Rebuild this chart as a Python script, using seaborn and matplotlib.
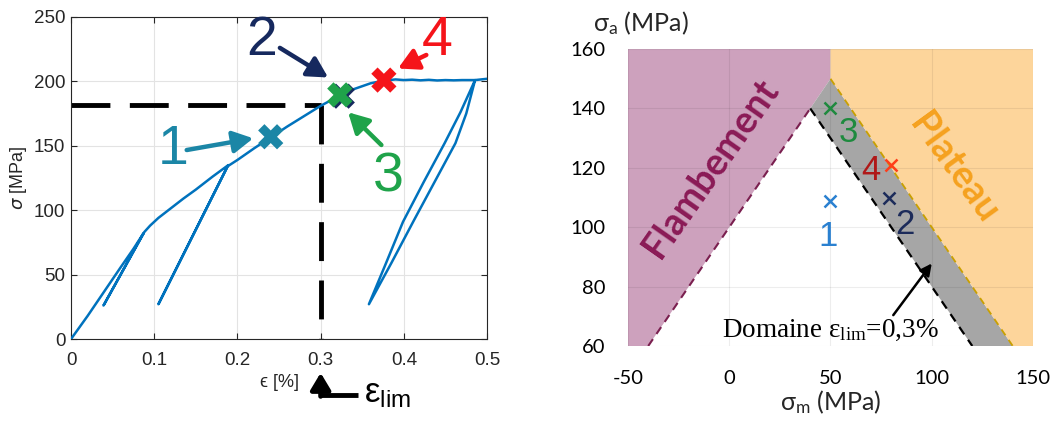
import numpy as np
import matplotlib
matplotlib.use("Agg")
import matplotlib.pyplot as plt
import matplotlib.transforms as mtransforms
import seaborn as sns

# left: stress-strain curve with unloading loops (path order)
strain = [0, 0.02, 0.04, 0.06, 0.075, 0.087,
          0.039, 0.088,
          0.095, 0.105, 0.119, 0.135, 0.15, 0.17, 0.189,
          0.105, 0.188,
          0.2, 0.22, 0.24, 0.26, 0.28, 0.30, 0.32, 0.34, 0.36, 0.375, 0.39,
          0.40, 0.41, 0.42, 0.43, 0.44, 0.45, 0.46, 0.47, 0.4856,
          0.475, 0.462, 0.437, 0.412, 0.385, 0.358,
          0.378, 0.399, 0.424, 0.449, 0.468, 0.4856, 0.5]
stress = [0, 18, 37, 56, 70, 82,
          26, 83,
          88, 94, 101, 109, 116, 126, 135,
          27, 134,
          139, 148, 156.5, 165, 173, 181, 188, 194, 198.5, 200.5, 201.5,
          201, 201.3, 200.8, 201.2, 200.7, 201, 200.8, 201, 201,
          175, 152, 122, 92, 59, 27,
          58, 91, 122, 152, 176, 201, 202]

eps_lim = 0.3
sig_lim = 182

pt_labels = ["1", "2", "3", "4"]
pt_strain = [0.24, 0.326, 0.323, 0.376]
pt_stress = [157, 188.5, 189.5, 201]
pt_colors = ["#1b86a6", "#16295e", "#1fa34a", "#f5141a"]

# right: domain diagram
sm_flamb = [-40, 40]
sa_flamb = [60, 140]
sm_lim = [40, 120]
sa_lim = [140, 60]
sm_plat = [50, 140]
sa_plat = [150, 60]

dom_sm = [50, 79, 50, 80]
dom_sa = [109, 110, 140, 121]
dom_colors = ["#2a80d0", "#1c2b5a", "#1e8a3e", "#ff3d1a"]
dom_text_colors = ["#2a80d0", "#1c2b5a", "#1e8a3e", "#b01818"]

sns.set_theme(style="white")
plt.rcParams["font.family"] = ["Liberation Sans", "DejaVu Sans"]
plt.rcParams["axes.unicode_minus"] = False

fig = plt.figure(figsize=(10.54, 4.26), dpi=100)

# ---------------- left panel ----------------
ax = fig.add_axes([0.0674, 0.2042, 0.3947, 0.756])
sns.lineplot(x=strain, y=stress, sort=False, estimator=None, color="#0072bd",
             lw=1.8, ax=ax, zorder=3)
ax.plot([0, eps_lim], [sig_lim, sig_lim], color="black", lw=3.5,
        dashes=(8, 4), zorder=2)
ax.plot([eps_lim, eps_lim], [sig_lim, 0], color="black", lw=3.5,
        dashes=(8, 4), zorder=2)

for i in [0, 1, 2, 3]:
    sns.scatterplot(x=[pt_strain[i]], y=[pt_stress[i]], marker="X", s=330,
                    color=pt_colors[i], edgecolor="none", ax=ax, zorder=5)

arrow_kw = dict(arrowstyle="-|>,head_length=0.55,head_width=0.3", lw=3.2,
                mutation_scale=22, shrinkA=0, shrinkB=0)
ax.annotate("", xy=(0.219, 155.8), xytext=(0.139, 146.7),
            arrowprops=dict(color=pt_colors[0], **arrow_kw), zorder=6)
ax.annotate("", xy=(0.309, 203), xytext=(0.251, 226),
            arrowprops=dict(color=pt_colors[1], **arrow_kw), zorder=6)
ax.annotate("", xy=(0.333, 176), xytext=(0.373, 150.6),
            arrowprops=dict(color=pt_colors[2], **arrow_kw), zorder=6)
ax.annotate("", xy=(0.393, 210), xytext=(0.427, 220.5),
            arrowprops=dict(color=pt_colors[3], **arrow_kw), zorder=6)
ax.text(0.123, 147, "1", color=pt_colors[0], fontsize=40, ha="center", va="center")
ax.text(0.229, 231, "2", color=pt_colors[1], fontsize=40, ha="center", va="center")
ax.text(0.381, 125, "3", color=pt_colors[2], fontsize=40, ha="center", va="center")
ax.text(0.44, 231, "4", color=pt_colors[3], fontsize=40, ha="center", va="center")

ax.set_xlim(0, 0.5)
ax.set_ylim(0, 250)
ax.set_xticks(np.arange(0, 0.51, 0.1))
ax.set_xticklabels(["0", "0.1", "0.2", "0.3", "0.4", "0.5"])
ax.set_yticks(np.arange(0, 251, 50))
ax.grid(True, color="#e3e3e3", lw=0.8)
ax.tick_params(direction="in", length=4, width=0.8, top=True, right=True,
               bottom=True, left=True, labelsize=13.5, colors="#262626", pad=4)
ax.tick_params(axis="x", pad=9)
for sp in ax.spines.values():
    sp.set_color("#262626")
    sp.set_linewidth(0.8)
ax.set_xlabel("\u03f5 [%]", fontsize=13, color="#262626")
ax.set_ylabel(r"$\sigma$ [MPa]", fontsize=13, color="#262626")
ax.xaxis.set_label_coords(0.5, -0.11)
ax.yaxis.set_label_coords(-0.1, 0.5)

# eps_lim marker below the axis
tr = mtransforms.blended_transform_factory(ax.transData, ax.transAxes)
ax.annotate("", xy=(eps_lim, -0.105), xycoords=tr, xytext=(eps_lim, -0.178),
            textcoords=tr, annotation_clip=False,
            arrowprops=dict(arrowstyle="-|>,head_length=0.5,head_width=0.3",
                            lw=3.5, color="black", mutation_scale=20,
                            shrinkA=0, shrinkB=0))
ax.plot([eps_lim - 0.002, 0.345], [-0.175, -0.175], transform=tr, color="black",
        lw=3.5, clip_on=False, solid_capstyle="butt")
ax.text(0.352, -0.17, r"$\mathregular{\epsilon_{lim}}$", transform=tr,
        fontsize=25, va="center", ha="left", color="black")

# ---------------- right panel ----------------
ax2 = fig.add_axes([0.5958, 0.1878, 0.3843, 0.697])
ax2.set_xlim(-50, 150)
ax2.set_ylim(60, 160)

purple_x = [-50] + sm_flamb + [sm_plat[0], sm_plat[0], -50]
purple_y = [60] + sa_flamb + [sa_plat[0], 160, 160]
ax2.fill(purple_x, purple_y, color="#cda1bd", lw=0, zorder=1)
ax2.fill([sm_lim[0], sm_plat[0], sm_plat[1], sm_lim[1]],
         [sa_lim[0], sa_plat[0], sa_plat[1], sa_lim[1]], color="#a6a6a6", lw=0, zorder=1)
ax2.fill([sm_plat[0], 150, 150, sm_plat[1], sm_plat[0]],
         [160, 160, 60, sa_plat[1], sa_plat[0]], color="#fdd59b", lw=0, zorder=1)

sns.lineplot(x=sm_flamb, y=sa_flamb, color="#7a1f4f", lw=1.5, ax=ax2, zorder=3)
ax2.lines[-1].set_dashes((4, 3))
sns.lineplot(x=sm_lim, y=sa_lim, color="black", lw=1.6, ax=ax2, zorder=3)
ax2.lines[-1].set_dashes((4, 3))
sns.lineplot(x=sm_plat, y=sa_plat, color="#c9a000", lw=1.3, ax=ax2, zorder=3)
ax2.lines[-1].set_dashes((4, 3))

for i in range(4):
    ax2.plot(dom_sm[i], dom_sa[i], marker="x", ms=9, mew=1.8,
             color=dom_colors[i], zorder=5)

ax2.text(49, 97, "1", color=dom_text_colors[0], fontsize=25, ha="center", va="center")
ax2.text(87, 101, "2", color=dom_text_colors[1], fontsize=25, ha="center", va="center")
ax2.text(59, 132, "3", color=dom_text_colors[2], fontsize=25, ha="center", va="center")
ax2.text(70, 119, "4", color=dom_text_colors[3], fontsize=25, ha="center", va="center")

ax2.text(-9, 120, "Flambement", color="#8a1a56", fontsize=27, fontweight="bold",
         rotation=55, ha="center", va="center", family=["Lato", "DejaVu Sans"])
ax2.text(111, 120, "Plateau", color="#f5a11f", fontsize=27, fontweight="bold",
         rotation=-54, ha="center", va="center", family=["Lato", "DejaVu Sans"])

ax2.annotate("", xy=(100, 87.8), xytext=(81, 70.4),
             arrowprops=dict(arrowstyle="-|>,head_length=0.5,head_width=0.25",
                             lw=1.8, color="black", mutation_scale=14,
                             shrinkA=0, shrinkB=0), zorder=6)
ax2.text(50, 65.4, r"Domaine $\mathregular{\varepsilon_{lim}}$=0,3%", fontsize=19.5,
         ha="center", va="center", color="black", family=["Liberation Serif"], zorder=6)

ax2.set_xticks([-50, 0, 50, 100, 150])
ax2.set_yticks([60, 80, 100, 120, 140, 160])
ax2.grid(True, color="black", alpha=0.07, lw=0.8)
ax2.set_axisbelow(False)
for sp in ax2.spines.values():
    sp.set_visible(False)
ax2.tick_params(length=0, labelsize=14.5, colors="black")
ax2.tick_params(axis="x", pad=17)
ax2.tick_params(axis="y", pad=16)
for lab in ax2.get_xticklabels() + ax2.get_yticklabels():
    lab.set_family(["Lato", "DejaVu Sans"])

fig.text(0.563, 0.945, r"$\mathregular{\sigma_a}$ (MPa)", fontsize=18, ha="left",
         va="center", family=["Lato", "DejaVu Sans"])
fig.text(0.788, 0.055, r"$\mathregular{\sigma_m}$ (MPa)", fontsize=18, ha="center",
         va="center", family=["Lato", "DejaVu Sans"])

fig.savefig("out.png", dpi=100)
